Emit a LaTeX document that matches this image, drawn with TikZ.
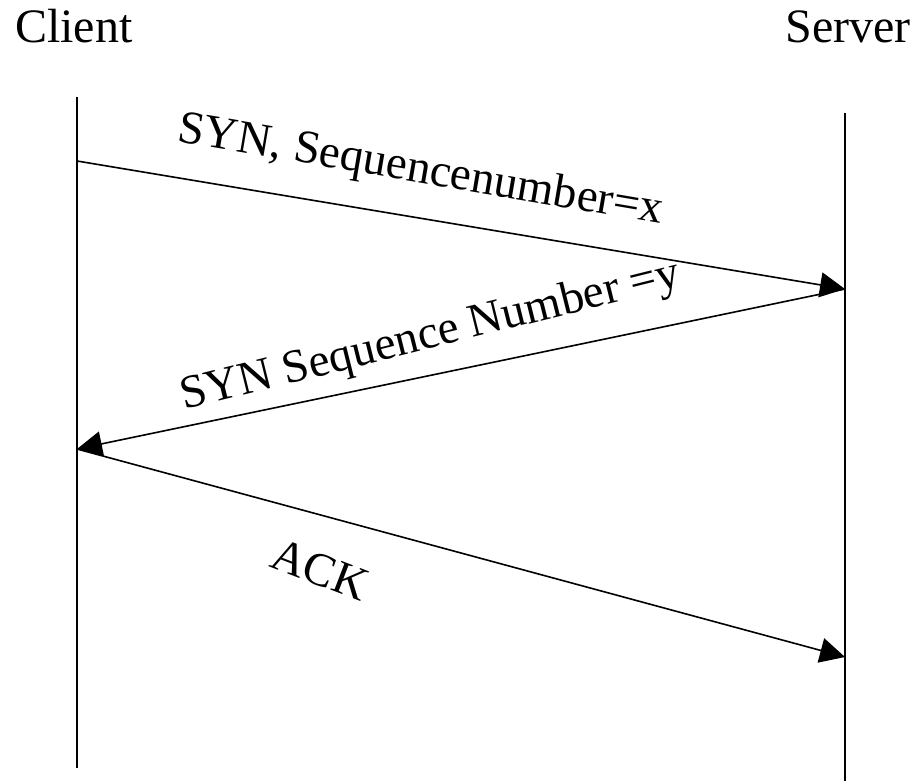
\documentclass[tikz,border=0pt]{standalone}
\usepackage{fontspec}
\setmainfont{Liberation Serif}
\usetikzlibrary{arrows.meta}
\begin{document}
\begin{tikzpicture}[x=1pt,y=-1pt,
  lifeline/.style={line width=1.6pt},
  msg/.style={line width=1.6pt,-{Triangle[length=25pt,width=25pt]}},
  actor/.style={inner sep=0pt,font=\fontsize{48}{58}\selectfont},
  msglabel/.style={inner sep=0pt,font=\fontsize{47}{56}\selectfont}]
  \useasboundingbox (0,0) rectangle (917,781);

  % participants
  \node[actor,anchor=base west] (client) at (15,43) {Client};
  \node[actor,anchor=base east] (server) at (911,43) {Server};

  % lifelines
  \coordinate (ctop) at (77,97);
  \coordinate (cbot) at (77,768);
  \coordinate (stop) at (845,113);
  \coordinate (sbot) at (845,781);
  \draw[lifeline] (ctop) -- (cbot);
  \draw[lifeline] (stop) -- (sbot);

  % message end points on the lifelines
  \coordinate (c1) at (77,161);
  \coordinate (s1) at (845,289);
  \coordinate (c2) at (77,449);
  \coordinate (s2) at (845,657);

  % three-way handshake
  \draw[msg] (c1) -- (s1);
  \draw[msg] (s1) -- (c2);
  \draw[msg] (c2) -- (s2);

  % message labels
  \node[msglabel,anchor=base west,rotate=-9.7] (l1) at (176,141) {SYN, Sequencenumber=x};
  \node[msglabel,anchor=base west,rotate=14] (l2) at (184,410) {SYN Sequence Number =y};
  \node[msglabel,anchor=base west,rotate=-21] (l3) at (268,566) {ACK};
\end{tikzpicture}
\end{document}
